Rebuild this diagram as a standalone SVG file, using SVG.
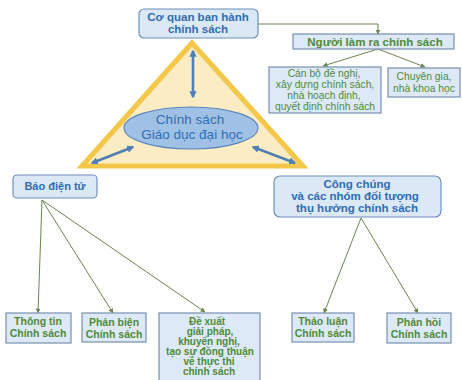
<svg xmlns="http://www.w3.org/2000/svg" width="462" height="380" viewBox="0 0 462 380">
<defs>
<marker id="ah" viewBox="0 0 10 10" refX="9" refY="5" markerWidth="5" markerHeight="5" orient="auto">
<path d="M0,0 L10,5 L0,10 z" fill="#6b8550"/>
</marker>
<marker id="bh" viewBox="0 0 10 10" refX="8" refY="5" markerWidth="2.8" markerHeight="2.8" orient="auto-start-reverse">
<path d="M0,0 L10,5 L0,10 z" fill="#4f7fb3"/>
</marker>
<style>
text{font-family:"Liberation Sans",Arial,sans-serif;text-anchor:middle}
.rbox{fill:#dbe8f6;stroke:#6f90b8;stroke-width:1.2}
.sbox{fill:#dde9f6;stroke:#7890b0;stroke-width:1.2}
.blue{fill:#2f6db3;font-weight:bold}
.green{fill:#4f8a3a;font-weight:bold}
.greenr{fill:#4f8a3a}
.con{stroke:#6b8550;stroke-width:1;fill:none;marker-end:url(#ah)}
.dbl{stroke:#4f7fb3;stroke-width:2.6;fill:none;marker-start:url(#bh);marker-end:url(#bh)}
</style>
</defs>
<rect width="462" height="380" fill="#ffffff"/>
<g id="triangle">
<polygon points="192,43 82,166 303,166" fill="#fcecc3" stroke="#f3c84a" stroke-width="5" stroke-linejoin="miter"/>
</g>
<g id="connectors">
<polyline class="con" points="258,24 378,24 378,34"/>
<line class="con" x1="378" y1="49" x2="323" y2="66"/>
<line class="con" x1="378" y1="49" x2="425" y2="67"/>
<line class="con" x1="42" y1="200" x2="38" y2="313"/>
<line class="con" x1="42" y1="200" x2="113" y2="313"/>
<line class="con" x1="42" y1="200" x2="205" y2="312"/>
<line class="con" x1="361" y1="218" x2="324" y2="313"/>
<line class="con" x1="361" y1="218" x2="418" y2="313"/>
<line class="dbl" x1="193" y1="51" x2="193" y2="97"/>
<line class="dbl" x1="92" y1="163" x2="133" y2="147"/>
<line class="dbl" x1="253" y1="147" x2="295" y2="163"/>
</g>
<g id="n-center">
<ellipse cx="191" cy="128" rx="67" ry="21" fill="#9fc1e6" stroke="#5b87bd" stroke-width="1.2"/>
<text x="190" y="124" font-size="13.5" fill="#2f6db3">Chính sách</text>
<text x="192" y="139" font-size="13.5" fill="#2f6db3">Giáo dục đại học</text>
</g>
<g id="n-coquan">
<rect class="rbox" x="139" y="9" width="119" height="29" rx="5"/>
<text class="blue" x="198" y="21" font-size="11.5">Cơ quan ban hành</text>
<text class="blue" x="198" y="33" font-size="11.5">chính sách</text>
</g>
<g id="n-nguoilam">
<rect class="sbox" x="293" y="34" width="161" height="15"/>
<text class="green" x="375" y="45.5" font-size="11.5">Người làm ra chính sách</text>
</g>
<g id="n-canbo">
<rect class="sbox" x="269" y="67" width="112" height="46"/>
<text class="greenr" x="324" y="77" font-size="10.3">Cán bộ đề nghị,</text>
<text class="greenr" x="325" y="88" font-size="10.3">xây dựng chính sách,</text>
<text class="greenr" x="324" y="99" font-size="10.3">nhà hoạch định,</text>
<text class="greenr" x="325" y="110" font-size="10.3">quyết định chính sách</text>
</g>
<g id="n-chuyengia">
<rect class="sbox" x="388" y="68" width="72" height="29"/>
<text class="greenr" x="424" y="80" font-size="10.3">Chuyên gia,</text>
<text class="greenr" x="424" y="92" font-size="10.3">nhà khoa học</text>
</g>
<g id="n-baodientu">
<rect class="rbox" x="13" y="175" width="84" height="23" rx="4"/>
<text class="blue" x="55" y="190" font-size="11">Báo điện tử</text>
</g>
<g id="n-congchung">
<rect class="rbox" x="274" y="176" width="167" height="41" rx="6"/>
<text class="blue" x="357" y="188" font-size="11.5">Công chúng</text>
<text class="blue" x="355" y="200" font-size="11.5">và các nhóm đối tượng</text>
<text class="blue" x="357" y="212" font-size="11.5">thụ hưởng chính sách</text>
</g>
<g id="n-thongtin">
<rect class="sbox" x="6" y="313" width="65" height="30"/>
<text class="green" x="38" y="325" font-size="10.5">Thông tin</text>
<text class="green" x="38" y="337" font-size="10.5">Chính sách</text>
</g>
<g id="n-phanbien">
<rect class="sbox" x="82" y="313" width="64" height="29"/>
<text class="green" x="114" y="326" font-size="10.5">Phản biện</text>
<text class="green" x="114" y="338" font-size="10.5">Chính sách</text>
</g>
<g id="n-dexuat">
<rect class="sbox" x="159" y="313" width="101" height="70"/>
<text class="green" x="207" y="325" font-size="10">Đề xuất</text>
<text class="green" x="210" y="335" font-size="10">giải pháp,</text>
<text class="green" x="209" y="345" font-size="10">khuyến nghị,</text>
<text class="green" x="210" y="355" font-size="10">tạo sự đồng thuận</text>
<text class="green" x="209" y="365" font-size="10">về thực thi</text>
<text class="green" x="209" y="375" font-size="10">chính sách</text>
</g>
<g id="n-thaoluan">
<rect class="sbox" x="292" y="313" width="62" height="29"/>
<text class="green" x="323" y="325" font-size="10.5">Thảo luận</text>
<text class="green" x="323" y="337" font-size="10.5">Chính sách</text>
</g>
<g id="n-phanhoi">
<rect class="sbox" x="387" y="313" width="64" height="30"/>
<text class="green" x="419" y="326" font-size="10.5">Phản hồi</text>
<text class="green" x="419" y="338" font-size="10.5">Chính sách</text>
</g>
</svg>
